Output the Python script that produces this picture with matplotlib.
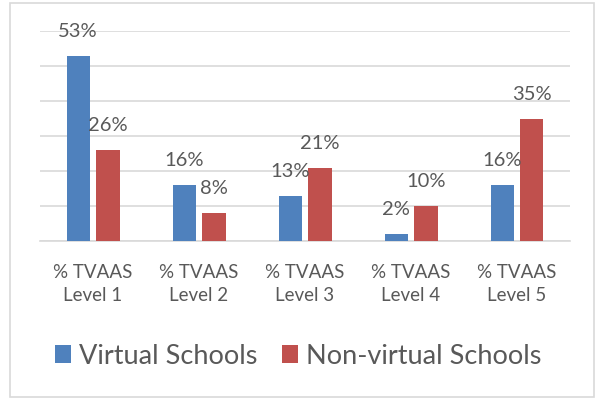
import matplotlib
matplotlib.use("Agg")
from matplotlib import pyplot as plt
from matplotlib.patches import Rectangle
import numpy as np

plt.rcParams['font.family'] = ['Lato', 'DejaVu Sans']

categories = ["% TVAAS\nLevel 1", "% TVAAS\nLevel 2", "% TVAAS\nLevel 3",
              "% TVAAS\nLevel 4", "% TVAAS\nLevel 5"]
virtual = [53, 16, 13, 2, 16]
non_virtual = [26, 8, 21, 10, 35]
series_names = ["Virtual Schools", "Non-virtual Schools"]

blue = "#4F81BD"
red = "#C0504D"
text_col = "#595959"

fig = plt.figure(figsize=(5.96, 4.0), dpi=100)
ax = fig.add_axes([40 / 596, 1 - 241 / 400, 530 / 596, 210 / 400])

x = np.arange(len(categories))
w = 0.22
off = 0.14
b1 = ax.bar(x - off, virtual, w, color=blue, label=series_names[0], zorder=3)
b2 = ax.bar(x + off, non_virtual, w, color=red, label=series_names[1], zorder=3)

for bars, vals in ((b1, virtual), (b2, non_virtual)):
    for b, v in zip(bars, vals):
        ax.annotate(f"{v}%", (b.get_x() + b.get_width() / 2, v),
                    xytext=(0, 17.5), textcoords="offset points",
                    ha="center", va="center", fontsize=14.5, color=text_col)

ax.set_xlim(-0.5, len(categories) - 0.5)
ax.set_ylim(0, 60)
ax.set_yticks(np.arange(0, 61, 10))
ax.yaxis.grid(True, color="#D9D9D9", linewidth=1.2, zorder=0)
ax.tick_params(axis="y", left=False, labelleft=False)
ax.tick_params(axis="x", bottom=False, pad=13)
ax.set_xticks(x)
ax.set_xticklabels(categories, fontsize=13.5, color=text_col, linespacing=1.4)
for s in ("top", "right", "left"):
    ax.spines[s].set_visible(False)
ax.spines["bottom"].set_color("#D9D9D9")
ax.spines["bottom"].set_linewidth(1.2)

fig.legend(handles=[b1, b2], loc="center", bbox_to_anchor=(0.5, 1 - 356 / 400),
           ncol=2, frameon=False, fontsize=19.5, labelcolor=text_col,
           handlelength=0.6, handleheight=0.6, handletextpad=0.3, columnspacing=0.9)

fig.patches.append(Rectangle((10 / 596, 3 / 400), 584 / 596, 394 / 400,
                             transform=fig.transFigure, fill=False,
                             edgecolor="#D9D9D9", linewidth=1.2))

fig.savefig("out.png")
